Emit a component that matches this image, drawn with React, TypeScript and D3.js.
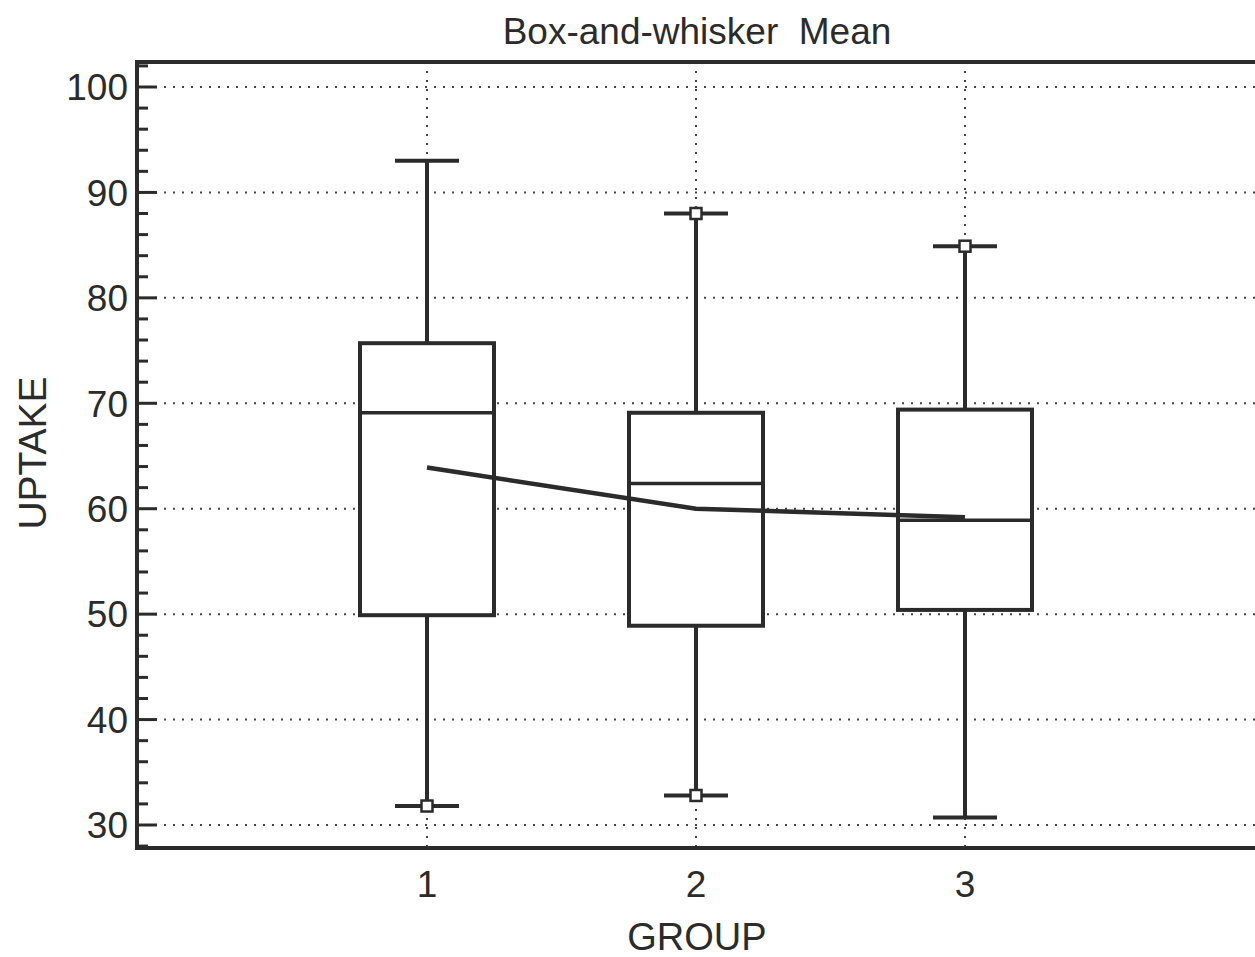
import * as d3 from 'd3'

const groups = [1, 2, 3]
const whiskerLow = [31.8, 32.8, 30.7]
const q1 = [49.9, 48.9, 50.4]
const medians = [69.1, 62.4, 58.9]
const q3 = [75.7, 69.1, 69.4]
const whiskerHigh = [93.0, 88.0, 84.9]
const means = [63.9, 60.0, 59.2]
// which whisker ends carry the little square marker
const lowMarked = [true, true, false]
const highMarked = [false, true, true]
const yTicks = [30, 40, 50, 60, 70, 80, 90, 100]

const W = 1255
const H = 957
const ink = '#2b2b2b'

const App = () => {
    const x = d3.scaleLinear().domain([1, 3]).range([427, 965])
    const y = d3.scaleLinear().domain([30, 100]).range([825, 87])
    const frame = { left: 137, top: 62, right: 1270, bottom: 848 }
    const boxHalf = 67
    const capHalf = 32
    const minorTicks = d3.range(28, 102.1, 2).filter(v => v % 10 !== 0 && y(v) > frame.top && y(v) < frame.bottom)

    const meanLine = d3.line<number>()
        .x((_, i) => x(groups[i]))
        .y(d => y(d))(means)

    return (
        <div style={{ position: 'absolute', left: 0, top: 0 }}>
            <svg width={W} height={H} style={{ display: 'block', background: '#fff' }}
                fontFamily="'Liberation Sans', Arial, sans-serif">
                <text x={697} y={44} textAnchor="middle" fontSize={37} fill={ink}
                    style={{ whiteSpace: 'pre' }}>Box-and-whisker  Mean</text>

                {/* grid */}
                <g stroke="#444" strokeWidth={2} strokeDasharray="2,7">
                    {yTicks.map(t => (
                        <line key={'h' + t} x1={frame.left + 18} x2={frame.right} y1={y(t)} y2={y(t)} />
                    ))}
                    {groups.map(g => (
                        <line key={'v' + g} x1={x(g)} x2={x(g)} y1={frame.top} y2={frame.bottom} />
                    ))}
                </g>

                {/* ticks */}
                <g stroke={ink} strokeWidth={3}>
                    {yTicks.map(t => (
                        <line key={'t' + t} x1={frame.left} x2={frame.left + 20} y1={y(t)} y2={y(t)} />
                    ))}
                    {minorTicks.map(t => (
                        <line key={'m' + t} x1={frame.left} x2={frame.left + 11} y1={y(t)} y2={y(t)} />
                    ))}
                </g>
                <g fontSize={37} fill={ink} textAnchor="end">
                    {yTicks.map(t => (
                        <text key={'l' + t} x={128} y={y(t)} dy="0.36em">{t}</text>
                    ))}
                </g>
                <g fontSize={37} fill={ink} textAnchor="middle">
                    {groups.map(g => (
                        <text key={'g' + g} x={x(g)} y={897}>{g}</text>
                    ))}
                </g>
                <text x={697} y={950} textAnchor="middle" fontSize={38} fill={ink}>GROUP</text>
                <text transform="translate(46,453) rotate(-90)" textAnchor="middle" fontSize={39} fill={ink}>UPTAKE</text>

                {/* boxes */}
                <g stroke={ink} strokeWidth={4} fill="none">
                    {groups.map((g, i) => {
                        const cx = x(g)
                        return (
                            <g key={'b' + g}>
                                <line x1={cx} x2={cx} y1={y(whiskerHigh[i])} y2={y(q3[i])} />
                                <line x1={cx} x2={cx} y1={y(q1[i])} y2={y(whiskerLow[i])} />
                                <line x1={cx - capHalf} x2={cx + capHalf} y1={y(whiskerHigh[i])} y2={y(whiskerHigh[i])} />
                                <line x1={cx - capHalf} x2={cx + capHalf} y1={y(whiskerLow[i])} y2={y(whiskerLow[i])} />
                                <rect x={cx - boxHalf} y={y(q3[i])} width={boxHalf * 2} height={y(q1[i]) - y(q3[i])} fill="#fff" />
                                <line x1={cx - boxHalf} x2={cx + boxHalf} y1={y(medians[i])} y2={y(medians[i])} strokeWidth={3.5} />
                            </g>
                        )
                    })}
                </g>

                <path d={meanLine ?? ''} fill="none" stroke={ink} strokeWidth={4.5} />

                {/* markers */}
                <g stroke={ink} strokeWidth={2.5} fill="#fff">
                    {groups.map((g, i) => lowMarked[i] ? (
                        <rect key={'lo' + g} x={x(g) - 5.5} y={y(whiskerLow[i]) - 5.5} width={11} height={11} />
                    ) : null)}
                    {groups.map((g, i) => highMarked[i] ? (
                        <rect key={'hi' + g} x={x(g) - 5.5} y={y(whiskerHigh[i]) - 5.5} width={11} height={11} />
                    ) : null)}
                </g>

                {/* frame */}
                <rect x={frame.left} y={frame.top} width={frame.right - frame.left} height={frame.bottom - frame.top}
                    fill="none" stroke={ink} strokeWidth={4} />
            </svg>
        </div>
    )
}

export default App
